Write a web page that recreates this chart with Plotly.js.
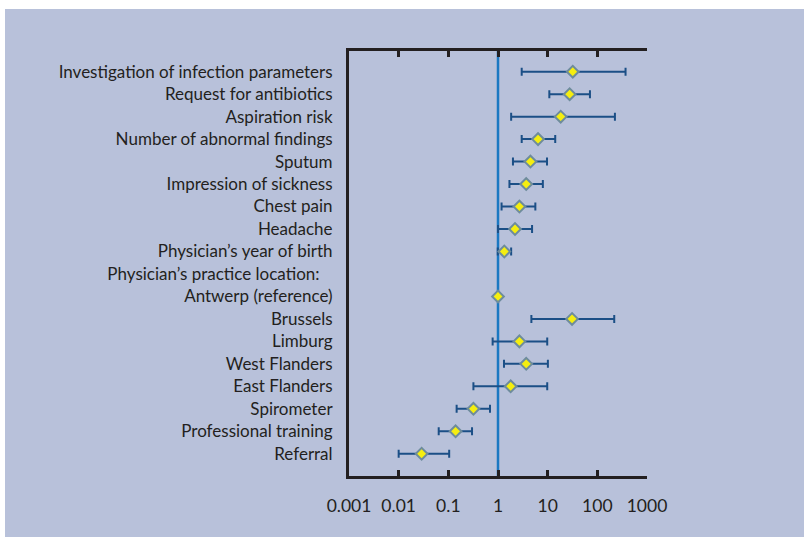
<!DOCTYPE html>
<html>
<head>
<meta charset="utf-8">
<script src="https://cdn.plot.ly/plotly-3.0.1.min.js"></script>
<style>
  html, body { margin: 0; padding: 0; background: #ffffff; width: 804px; height: 537px; overflow: hidden; }
  #chart { position: absolute; left: 5px; top: 9px; width: 799px; height: 528px; }
</style>
</head>
<body>
<div id="chart"></div>
<script>
// Row labels (top to bottom)
const labels = [
  "Investigation of infection parameters",
  "Request for antibiotics",
  "Aspiration risk",
  "Number of abnormal findings",
  "Sputum",
  "Impression of sickness",
  "Chest pain",
  "Headache",
  "Physician\u2019s year of birth",
  "Physician\u2019s practice location:\u00a0\u00a0\u00a0",
  "Antwerp (reference)",
  "Brussels",
  "Limburg",
  "West Flanders",
  "East Flanders",
  "Spirometer",
  "Professional training",
  "Referral"
];
// Point estimates (odds ratios) and confidence limits, null = no value
const estimate = [32, 27.7, 18.3, 6.4, 4.5, 3.7, 2.7, 2.2, 1.34, null, 1.0, 31, 2.7, 3.7, 1.8, 0.32, 0.14, 0.029];
const lower    = [3.0, 10.8, 1.84, 3.0, 2.0, 1.7, 1.18, 1.0, 0.99, null, null, 4.7, 0.78, 1.32, 0.32, 0.147, 0.064, 0.01];
const upper    = [370, 71, 226, 14.2, 9.7, 8.0, 5.65, 4.85, 1.84, null, null, 219, 9.8, 10.1, 9.8, 0.69, 0.30, 0.104];

const tickValues = [0.001, 0.01, 0.1, 1, 10, 100, 1000];
const tickLabels = ["0.001", "0.01", "0.1", "1", "10", "100", "1000"];
const referenceValue = 1;

const plus  = estimate.map((v, i) => (v == null || upper[i] == null) ? 0 : upper[i] - v);
const minus = estimate.map((v, i) => (v == null || lower[i] == null) ? 0 : v - lower[i]);

const ink = "#231f20";

const trace = {
  type: "scatter",
  mode: "markers",
  x: estimate,
  y: labels,
  marker: {
    symbol: "diamond",
    size: 9,
    color: "#f5ee10",
    line: { color: "#6e8c9c", width: 2 }
  },
  error_x: {
    type: "data",
    symmetric: false,
    array: plus,
    arrayminus: minus,
    color: "#1b4f86",
    thickness: 2,
    width: 4,
    visible: true
  },
  hoverinfo: "x+y",
  cliponaxis: false
};

const layout = {
  width: 799,
  height: 528,
  margin: { l: 344, r: 157, t: 42, b: 61 },
  paper_bgcolor: "#b8c1da",
  plot_bgcolor: "rgba(0,0,0,0)",
  showlegend: false,
  font: { family: "Lato, 'Open Sans', sans-serif", color: ink, size: 17 },
  xaxis: {
    type: "log",
    range: [-3, 3],
    tickmode: "array",
    tickvals: tickValues,
    ticktext: tickLabels,
    showgrid: false,
    zeroline: false,
    showline: true,
    linecolor: ink,
    linewidth: 3,
    mirror: "allticks",
    ticks: "inside",
    ticklen: 6,
    tickwidth: 3,
    tickcolor: ink,
    ticklabelstandoff: 12,
    tickfont: { family: "Lato, sans-serif", size: 17.5, color: ink }
  },
  yaxis: {
    type: "category",
    categoryorder: "array",
    categoryarray: labels,
    range: [17.99, -0.921],
    showgrid: false,
    zeroline: false,
    showline: true,
    linecolor: ink,
    linewidth: 3,
    mirror: false,
    ticks: "",
    ticklabelstandoff: 10,
    tickfont: { family: "Lato, sans-serif", size: 17, color: ink }
  },
  shapes: [{
    type: "line",
    xref: "x",
    yref: "paper",
    x0: referenceValue,
    x1: referenceValue,
    y0: 0,
    y1: 1,
    line: { color: "#1a78c2", width: 2.5 },
    layer: "below"
  }]
};

Plotly.newPlot("chart", [trace], layout, { displayModeBar: false, staticPlot: true });
</script>
</body>
</html>
